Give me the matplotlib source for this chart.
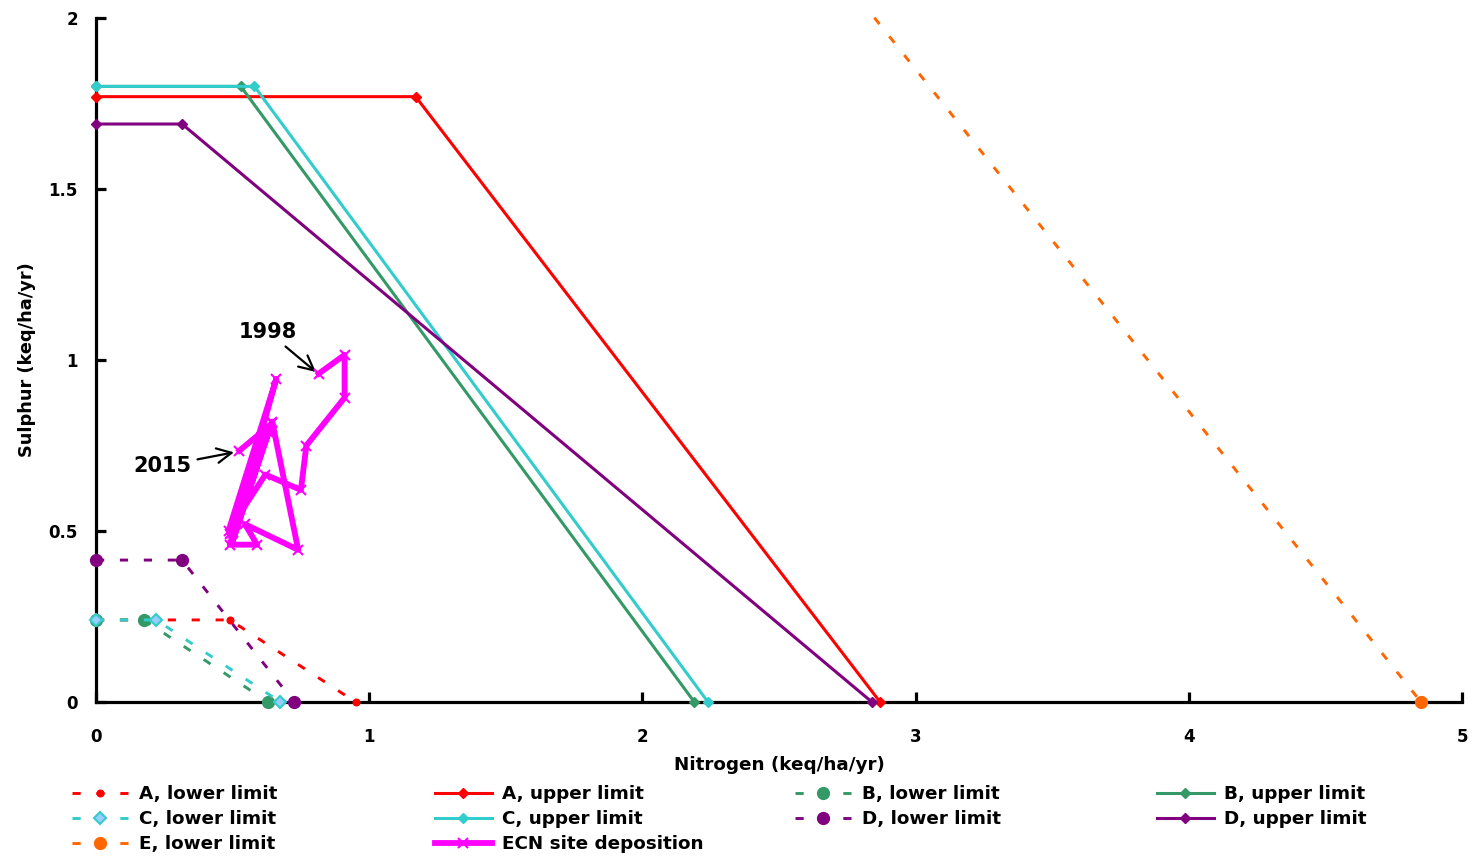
import matplotlib
matplotlib.use("Agg")
import matplotlib.pyplot as plt
from matplotlib.patches import Rectangle

plt.rcParams['font.family'] = ['DejaVu Sans']
plt.rcParams['font.weight'] = 'bold'

# ---------------- data ----------------
a_lower_n = [0.0, 0.49, 0.95]
a_lower_s = [0.24, 0.24, 0.0]
a_upper_n = [0.0, 1.17, 2.87]
a_upper_s = [1.77, 1.77, 0.0]

b_lower_n = [0.0, 0.175, 0.63]
b_lower_s = [0.24, 0.24, 0.0]
b_upper_n = [0.0, 0.53, 2.19]
b_upper_s = [1.80, 1.80, 0.0]

c_lower_n = [0.0, 0.22, 0.675]
c_lower_s = [0.24, 0.24, 0.0]
c_upper_n = [0.0, 0.58, 2.24]
c_upper_s = [1.80, 1.80, 0.0]

d_lower_n = [0.0, 0.315, 0.725]
d_lower_s = [0.415, 0.415, 0.0]
d_upper_n = [0.0, 0.315, 2.84]
d_upper_s = [1.69, 1.69, 0.0]

e_lower_n = [0.0, 0.55, 4.85]
e_lower_s = [4.30, 4.30, 0.0]

ecn_years = list(range(1998, 2016))
ecn_n = [0.815, 0.91, 0.91, 0.77, 0.75, 0.62, 0.485, 0.66, 0.49, 0.59,
         0.545, 0.74, 0.645, 0.50, 0.63, 0.49, 0.645, 0.525]
ecn_s = [0.96, 1.015, 0.89, 0.75, 0.62, 0.665, 0.50, 0.945, 0.46, 0.46,
         0.52, 0.445, 0.82, 0.47, 0.79, 0.49, 0.815, 0.735]

x_ticks = [0, 1, 2, 3, 4, 5]
x_tick_labels = ['0', '1', '2', '3', '4', '5']
y_ticks = [0, 0.5, 1, 1.5, 2]
y_tick_labels = ['0', '0.5', '1', '1.5', '2']

# ---------------- figure ----------------
W, H = 1472, 857
fig = plt.figure(figsize=(W / 100, H / 100), dpi=100)
ax = fig.add_axes([96 / W, 1 - 702 / H, (1462 - 96) / W, (702 - 18) / H])

RED = '#ff0000'
GREEN = '#339966'
CYAN = '#33cccc'
PURPLE = '#800080'
ORANGE = '#ff6600'
MAGENTA = '#ff00ff'

dash = (0, (2.8, 5.4))
lw_d = 2.1
lw_s = 2.2
ms_up = 5.5

h = {}
h['A, lower limit'], = ax.plot(a_lower_n, a_lower_s, color=RED, lw=lw_d, ls=dash,
                               marker='o', ms=4.8, clip_on=False, zorder=4)
h['A, upper limit'], = ax.plot(a_upper_n, a_upper_s, color=RED, lw=lw_s,
                               marker='D', ms=ms_up, clip_on=False, zorder=4)
h['B, lower limit'], = ax.plot(b_lower_n, b_lower_s, color=GREEN, lw=lw_d, ls=dash,
                               marker='o', ms=8.5, clip_on=False, zorder=4)
h['B, upper limit'], = ax.plot(b_upper_n, b_upper_s, color=GREEN, lw=lw_s,
                               marker='D', ms=ms_up, clip_on=False, zorder=4)
h['C, lower limit'], = ax.plot(c_lower_n, c_lower_s, color=CYAN, lw=lw_d, ls=dash,
                               marker='D', ms=6.5, mfc='#99ccff', mec=CYAN, mew=1.5,
                               clip_on=False, zorder=4)
h['C, upper limit'], = ax.plot(c_upper_n, c_upper_s, color=CYAN, lw=lw_s,
                               marker='D', ms=ms_up, clip_on=False, zorder=4)
h['D, lower limit'], = ax.plot(d_lower_n, d_lower_s, color=PURPLE, lw=lw_d, ls=dash,
                               marker='o', ms=8.5, clip_on=False, zorder=4)
h['D, upper limit'], = ax.plot(d_upper_n, d_upper_s, color=PURPLE, lw=lw_s,
                               marker='D', ms=ms_up, clip_on=False, zorder=4)
h['E, lower limit'], = ax.plot(e_lower_n, e_lower_s, color=ORANGE, lw=lw_d, ls=dash,
                               marker='o', ms=8.5, zorder=4)
clip_rect = Rectangle((-0.01, -0.03), 1.02, 1.036, transform=ax.transAxes)
h['E, lower limit'].set_clip_path(clip_rect)
h['ECN site deposition'], = ax.plot(ecn_n, ecn_s, color=MAGENTA, lw=4.2,
                                    marker='x', ms=6.5, mew=1.5, zorder=5)

ax.set_xlim(0, 5)
ax.set_ylim(0, 2)
for s in ['top', 'right']:
    ax.spines[s].set_visible(False)
for s in ['left', 'bottom']:
    ax.spines[s].set_linewidth(2.3)
    ax.spines[s].set_zorder(3)

ax.set_xticks(x_ticks)
ax.set_xticklabels(x_tick_labels)
ax.set_yticks(y_ticks)
ax.set_yticklabels(y_tick_labels)
ax.tick_params(axis='both', direction='in', length=7, width=2.3, labelsize=12)
ax.tick_params(axis='x', pad=19)
ax.tick_params(axis='y', pad=13)

ax.set_xlabel('Nitrogen (keq/ha/yr)', fontsize=13.2, fontweight='bold', labelpad=7)
ax.set_ylabel('Sulphur (keq/ha/yr)', fontsize=12.8, fontweight='bold', labelpad=9)

arrow = dict(arrowstyle='->,head_length=0.7,head_width=0.35', color='black', lw=1.6,
             shrinkA=2, shrinkB=0)
ax.annotate('1998', xy=(ecn_n[0] - 0.01, ecn_s[0] + 0.005), xytext=(0.63, 1.082),
            fontsize=15, fontweight='bold', ha='center', va='center',
            arrowprops=arrow)
ax.annotate('2015', xy=(ecn_n[-1] - 0.02, ecn_s[-1] - 0.005), xytext=(0.245, 0.69),
            fontsize=15, fontweight='bold', ha='center', va='center',
            arrowprops=arrow)

# ---------------- legend (4 columns, equal widths) ----------------
columns = [
    ['A, lower limit', 'C, lower limit', 'E, lower limit'],
    ['A, upper limit', 'C, upper limit', 'ECN site deposition'],
    ['B, lower limit', 'D, lower limit'],
    ['B, upper limit', 'D, upper limit'],
]
col_x = [72, 435, 795, 1157]
for cx, labels in zip(col_x, columns):
    fig.legend([h[l] for l in labels], labels, loc='upper left',
               bbox_to_anchor=(cx / W, 1 - 785 / H), frameon=False,
               handlelength=3.1, handletextpad=0.55,
               labelspacing=0.38, borderpad=0, borderaxespad=0,
               prop={'weight': 'bold', 'size': 13.2})

fig.savefig('out.png', dpi=100)
